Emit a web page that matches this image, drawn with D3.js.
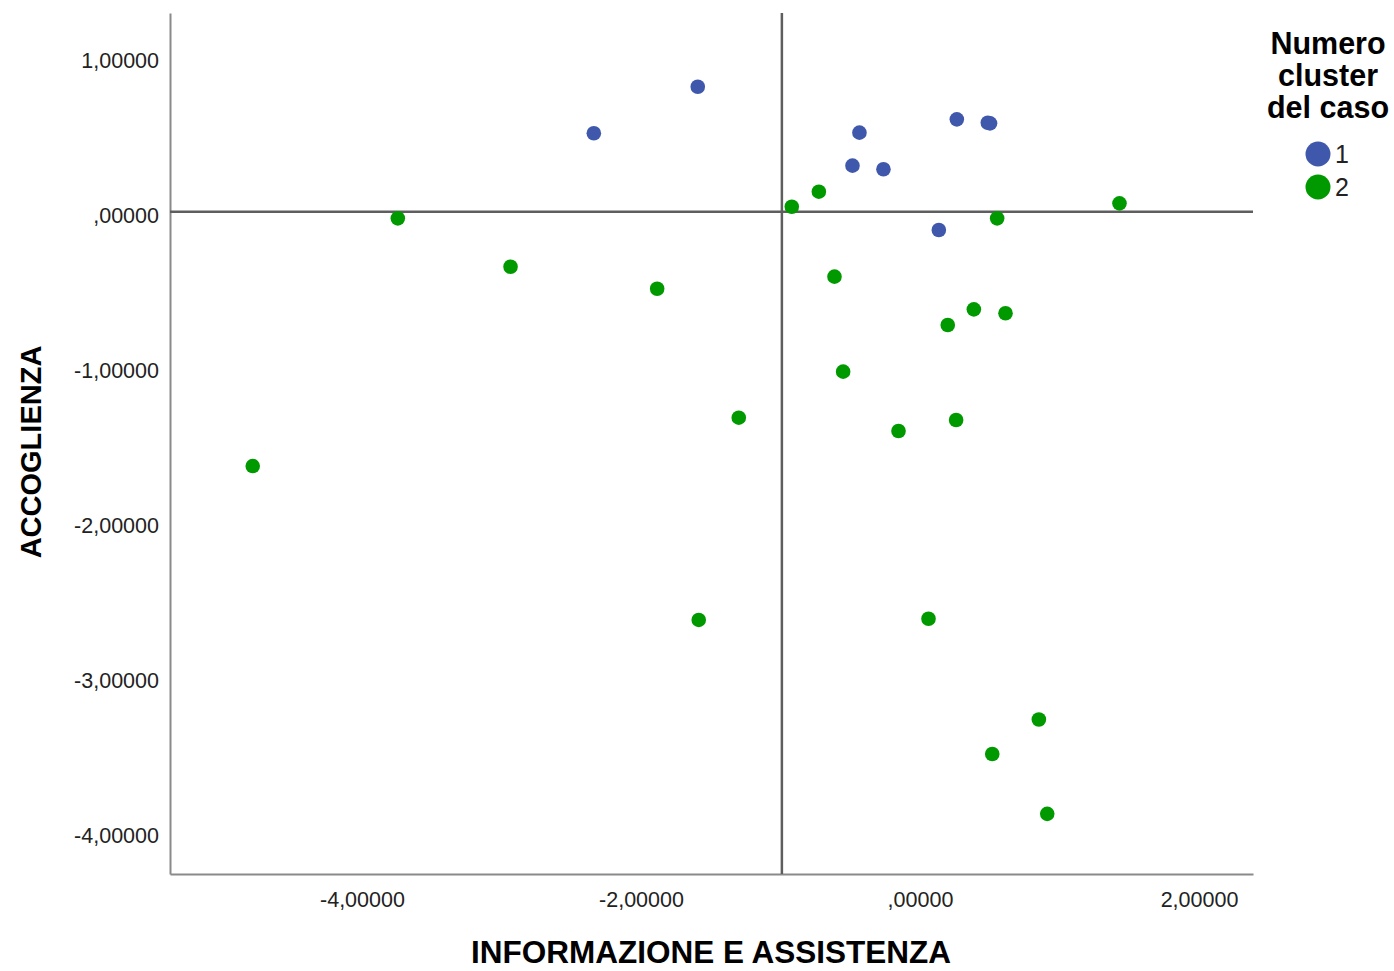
<!DOCTYPE html>
<html>
<head>
<meta charset="utf-8">
<script src="https://cdn.jsdelivr.net/npm/d3@7"></script>
<style>
  body { margin: 0; background: #fff; }
  svg { display: block; font-family: "Liberation Sans", Arial, sans-serif; }
</style>
</head>
<body>
<div id="chart"></div>
<script>
// cluster 1 (blue)
var cluster1X = [-1.593, -2.338, -0.434, 0.264, 0.486, 0.502, -0.484, -0.262, 0.135];
var cluster1Y = [0.806, 0.506, 0.510, 0.596, 0.574, 0.570, 0.297, 0.274, -0.118];

// cluster 2 (green)
var cluster2X = [-0.919, -0.725, 0.553, -3.743, -2.935, -1.884, -0.613, 1.430, 0.199, 0.386, 0.613,
  -0.551, -1.299, 0.259, -0.154, -4.783, -1.586, 0.061, 0.852, 0.518, 0.912];
var cluster2Y = [0.032, 0.129, -0.043, -0.043, -0.355, -0.497, -0.419, 0.054, -0.731, -0.630, -0.655,
  -1.032, -1.329, -1.344, -1.415, -1.641, -2.634, -2.626, -3.276, -3.499, -3.885];

var xTicks = [-4, -2, 0, 2];
var yTicks = [1, 0, -1, -2, -3, -4];
var xDomain = [-5.376, 2.387];
var yDomain = [-4.273, 1.282];
var refX = -0.99;
var refY = 0;

var clusterLabels = ["1", "2"];
var clusterColors = ["#3f58ab", "#009a00"];

var xTitle = "INFORMAZIONE E ASSISTENZA";
var yTitle = "ACCOGLIENZA";
var legendTitle = ["Numero", "cluster", "del caso"];

var width = 1394, height = 971;
// plot area (note: "top" would clash with window.top)
var plotLeft = 170, plotRight = 1253, plotTop = 13, plotBottom = 874;

var svg = d3.select("#chart")
  .append("svg")
  .attr("width", width)
  .attr("height", height);

var xscale = d3.scaleLinear().domain(xDomain).range([plotLeft, plotRight]);
var yscale = d3.scaleLinear().domain(yDomain).range([plotBottom, plotTop]);

// italian number style: 1,00000  ,00000  -4,00000
var locale = d3.formatLocale({ decimal: ",", thousands: ".", grouping: [3], currency: ["", ""], minus: "-" });
var fmt = locale.format(".5f");
function tickText(v) {
  return fmt(v).replace(/^(-?)0,/, "$1,");
}

// axes
var xAxis = svg.append("g")
  .attr("transform", "translate(0," + plotBottom + ")")
  .call(d3.axisBottom(xscale).tickValues(xTicks).tickFormat(tickText).tickSize(0).tickPadding(18));

var yAxis = svg.append("g")
  .attr("transform", "translate(" + plotLeft + ",0)")
  .call(d3.axisLeft(yscale).tickValues(yTicks).tickFormat(tickText).tickSize(0).tickPadding(11));

[xAxis, yAxis].forEach(function(ax) {
  ax.select(".domain").attr("stroke", "#8a8a8a").attr("stroke-width", 2);
  ax.selectAll("text")
    .attr("font-size", 21.5)
    .attr("font-family", "Liberation Sans, Arial, sans-serif")
    .attr("fill", "#222");
});
yAxis.selectAll("text").attr("dy", "0.5em");

// reference lines
svg.append("line")
  .attr("x1", xscale(xDomain[0])).attr("x2", xscale(xDomain[1]))
  .attr("y1", yscale(refY)).attr("y2", yscale(refY))
  .attr("stroke", "#5e5e5e").attr("stroke-width", 2.5);

svg.append("line")
  .attr("x1", xscale(refX)).attr("x2", xscale(refX))
  .attr("y1", yscale(yDomain[0])).attr("y2", yscale(yDomain[1]))
  .attr("stroke", "#5e5e5e").attr("stroke-width", 2.5);

// points
var series = [
  { xs: cluster1X, ys: cluster1Y, color: clusterColors[0] },
  { xs: cluster2X, ys: cluster2Y, color: clusterColors[1] }
];

series.forEach(function(s) {
  svg.append("g")
    .selectAll("circle")
    .data(s.xs)
    .enter()
    .append("circle")
    .attr("cx", function(d) { return xscale(d); })
    .attr("cy", function(d, i) { return yscale(s.ys[i]); })
    .attr("r", 7.3)
    .style("fill", s.color);
});

// axis titles
svg.append("text")
  .attr("x", 711)
  .attr("y", 963)
  .attr("text-anchor", "middle")
  .attr("font-size", 31.5)
  .attr("font-weight", "bold")
  .attr("fill", "#000")
  .text(xTitle);

svg.append("text")
  .attr("transform", "translate(41,452) rotate(-90)")
  .attr("text-anchor", "middle")
  .attr("font-size", 29)
  .attr("font-weight", "bold")
  .attr("fill", "#000")
  .text(yTitle);

// legend
var legend = svg.append("g");

legend.selectAll("text.title")
  .data(legendTitle)
  .enter()
  .append("text")
  .attr("class", "title")
  .attr("x", 1328)
  .attr("y", function(d, i) { return 54 + i * 32; })
  .attr("text-anchor", "middle")
  .attr("font-size", 30.5)
  .attr("font-weight", "bold")
  .attr("fill", "#000")
  .text(function(d) { return d; });

var item = legend.selectAll("g.item")
  .data(clusterLabels)
  .enter()
  .append("g")
  .attr("class", "item")
  .attr("transform", function(d, i) { return "translate(1318," + (154 + i * 33) + ")"; });

item.append("circle")
  .attr("r", 12.5)
  .style("fill", function(d, i) { return clusterColors[i]; });

item.append("text")
  .attr("x", 17)
  .attr("y", 9)
  .attr("font-size", 25)
  .attr("fill", "#222")
  .text(function(d) { return d; });
</script>
</body>
</html>
